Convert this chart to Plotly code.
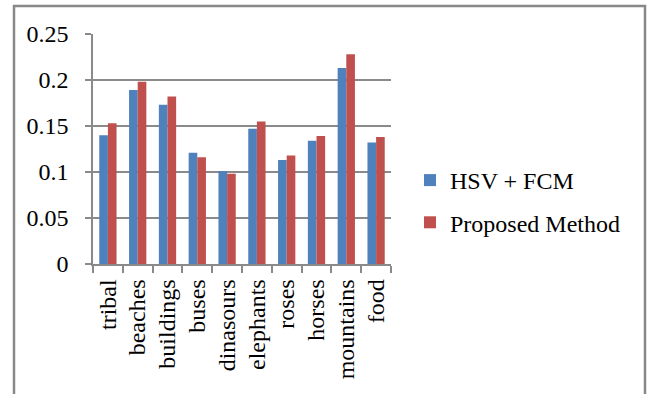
import plotly.graph_objects as go

categories = ["tribal", "beaches", "buildings", "buses", "dinasours",
              "elephants", "roses", "horses", "mountains", "food"]
hsv_fcm = [0.140, 0.189, 0.173, 0.121, 0.101, 0.147, 0.113, 0.134, 0.213, 0.132]
proposed = [0.153, 0.198, 0.182, 0.116, 0.098, 0.155, 0.118, 0.139, 0.228, 0.138]
y_ticks = [0, 0.05, 0.1, 0.15, 0.2, 0.25]
y_tick_labels = ["0", "0.05", "0.1", "0.15", "0.2", "0.25"]

FONT = "Liberation Serif, Times New Roman, serif"
GRID = "#8a8a8a"

# plot area in pixels
L, R, T, B = 93, 391, 34, 264
W, H = 650, 394

def px(x):
    return (x - L) / (R - L)

def py(y):
    return (B - y) / (B - T)

fig = go.Figure()
fig.add_trace(go.Bar(x=categories, y=hsv_fcm, name="HSV + FCM",
                     marker=dict(color="#4F81BD", line=dict(width=0)),
                     legendgroup="a"))
fig.add_trace(go.Bar(x=categories, y=proposed, name="Proposed Method",
                     marker=dict(color="#C0504D", line=dict(width=0)),
                     legendgroup="b"))

fig.update_layout(
    width=W, height=H,
    margin=dict(l=L, r=W - R, t=T, b=H - B),
    paper_bgcolor="white", plot_bgcolor="white",
    font=dict(family=FONT, size=24, color="black"),
    bargap=0.42, bargroupgap=0,
    showlegend=True,
    legend=dict(x=px(410), y=py(158), xanchor="left", yanchor="top",
                traceorder="grouped", tracegroupgap=8,
                font=dict(family=FONT, size=24, color="black"),
                bgcolor="rgba(0,0,0,0)"),
)
fig.update_yaxes(range=[0, 0.25], tickvals=y_ticks, ticktext=y_tick_labels,
                 showgrid=True, gridcolor=GRID, gridwidth=1.5,
                 showline=True, linecolor=GRID, linewidth=1.5,
                 ticks="outside", ticklen=6, tickcolor=GRID, tickwidth=1.5,
                 ticklabelstandoff=12, zeroline=False)
fig.update_xaxes(showline=True, linecolor=GRID, linewidth=1.5,
                 ticks="outside", ticklen=7, tickcolor=GRID, tickwidth=1.5,
                 tickson="boundaries", tickangle=-90, showgrid=False,
                 ticklabelstandoff=4)

# outer chart border (left, top, right)
fig.add_shape(type="path", xref="paper", yref="paper",
              path=f"M {px(14)} {py(400)} L {px(14)} {py(6)} L {px(645)} {py(6)} L {px(645)} {py(400)}",
              line=dict(color="#888888", width=2.5), layer="below")

fig.write_html("out.html")
